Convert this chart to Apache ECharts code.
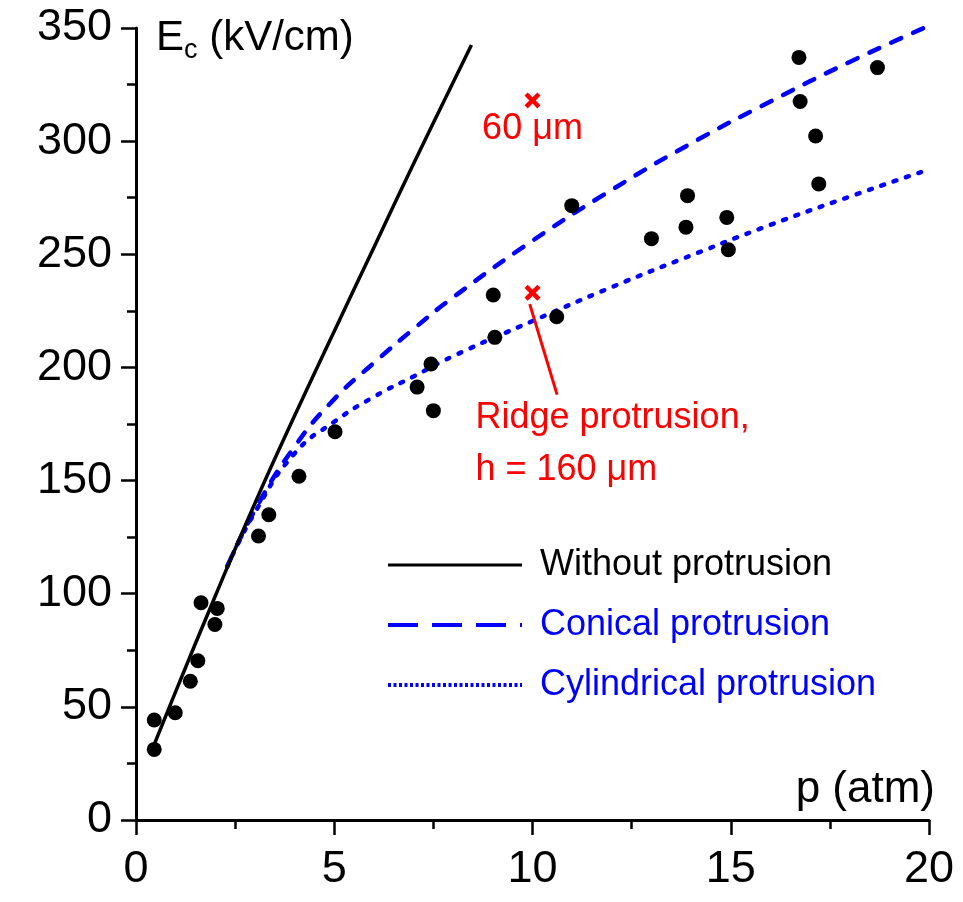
<!DOCTYPE html>
<html>
<head>
<meta charset="utf-8">
<script src="https://cdn.jsdelivr.net/npm/echarts@6/dist/echarts.min.js"></script>
<style>
  html, body { margin: 0; padding: 0; background: #fff; }
  #main { width: 963px; height: 902px; }
</style>
</head>
<body>
<div id="main"></div>
<script>
// measured points, p in atm, E in kV/cm
var expP = [0.46, 0.46, 0.99, 1.37, 1.56, 1.64, 1.99, 2.05, 3.09, 3.35, 4.11, 5.02, 7.09, 7.44, 7.5,
            9.01, 9.05, 10.61, 10.99, 13.0, 13.87, 13.91, 14.9, 14.94, 16.72, 16.75, 17.14, 17.22, 18.7];
var expE = [31.2, 44.2, 47.4, 61.3, 70.4, 96, 86.4, 93.5, 125.5, 134.9, 151.9, 171.6, 191.3, 201.5, 180.9,
            232, 213.3, 222.4, 271.5, 256.9, 262, 275.9, 266.3, 252, 337, 317.5, 302.3, 281.1, 332.5];

// calculated curves
var noProtP = [0.45, 1, 2, 3, 4, 5, 6, 7, 8, 8.46];
var noProtE = [33, 56.7, 99, 140, 178.6, 216, 253, 290, 326, 342.5];

var conicalP = [2.3, 3, 4, 5, 6, 7, 8, 10, 12, 14, 16, 18, 20];
var conicalE = [112, 137, 165, 186, 202, 217, 231, 256, 278.5, 299, 317.5, 335, 351];

var cylP = [2.3, 3, 4, 5, 6, 7, 8, 10, 12, 14, 16, 18, 20];
var cylE = [112, 136, 162, 176, 187, 196, 205, 220.5, 235.5, 249.5, 263, 275.5, 287.5];

// ridge protrusion crosses
var crossP = [10, 10];
var crossE = [318, 233];
var crossText = ['60 \u03bcm', 'Ridge protrusion,\nh = 160 \u03bcm'];
var leaderP = [9.93, 10.62];
var leaderE = [228, 188];

var xTicks = ['0', '5', '10', '15', '20'];

var FONT = 'Liberation Sans, Arial, sans-serif';
var BLUE = '#0000ff';
var RED = '#ff0000';

function pairs(xs, ys) {
    return xs.map(function (x, i) { return [x, ys[i]]; });
}

var crossSymbol = 'path://M2,0 L5,3 L8,0 L10,2 L7,5 L10,8 L8,10 L5,7 L2,10 L0,8 L3,5 L0,2 Z';

var myChart = echarts.init(document.getElementById('main'), null, { renderer: 'canvas' });

var options = {
    backgroundColor: '#fff',
    animation: false,
    textStyle: { fontFamily: FONT },
    grid: { left: 136, right: 34, top: 28, bottom: 82 },
    legend: {
        orient: 'vertical',
        left: 381,
        top: 540,
        itemWidth: 134,
        itemHeight: 20,
        itemGap: 20,
        selectedMode: false,
        itemStyle: { color: 'rgba(0,0,0,0)', borderWidth: 0 },
        textStyle: { fontFamily: FONT, fontSize: 36, lineHeight: 40, padding: [0, 0, 0, 13] },
        data: [
            { name: 'Without protrusion', textStyle: { color: '#000' },
              lineStyle: { color: '#000', width: 3, type: 'solid' } },
            { name: 'Conical protrusion', textStyle: { color: BLUE },
              lineStyle: { color: BLUE, width: 4, type: [30, 14], cap: 'butt' } },
            { name: 'Cylindrical protrusion', textStyle: { color: BLUE },
              lineStyle: { color: BLUE, width: 4, type: [3, 2.5], cap: 'butt' } }
        ]
    },
    xAxis: {
        type: 'value',
        min: 0,
        max: 20,
        interval: 5,
        name: 'p (atm)',
        nameLocation: 'end',
        nameGap: 6,
        nameTextStyle: { fontFamily: FONT, fontSize: 44, color: '#000', align: 'right', verticalAlign: 'bottom', padding: [0, 0, 8, 0] },
        axisLine: { show: true, onZero: false, lineStyle: { color: '#000', width: 3 } },
        axisTick: { show: true, length: 15, lineStyle: { color: '#000', width: 2.5 } },
        minorTick: { show: true, splitNumber: 2, length: 9, lineStyle: { color: '#000', width: 2.5 } },
        axisLabel: { fontFamily: FONT, fontSize: 45, color: '#000', margin: 27,
            formatter: function (v) { return xTicks[v / 5]; } },
        splitLine: { show: false }
    },
    yAxis: {
        type: 'value',
        min: 0,
        max: 350,
        interval: 50,
        name: '{a|E}{b|c}{a| (kV/cm)}',
        nameLocation: 'end',
        nameGap: -10,
        nameTextStyle: {
            align: 'left', verticalAlign: 'middle', padding: [0, 0, 0, 20],
            rich: {
                a: { fontFamily: FONT, fontSize: 42, lineHeight: 52, color: '#000' },
                b: { fontFamily: FONT, fontSize: 27, lineHeight: 27, color: '#000', verticalAlign: 'bottom' }
            }
        },
        axisLine: { show: true, onZero: false, lineStyle: { color: '#000', width: 3 } },
        axisTick: { show: true, length: 15, lineStyle: { color: '#000', width: 2.5 } },
        minorTick: { show: true, splitNumber: 2, length: 9, lineStyle: { color: '#000', width: 2.5 } },
        axisLabel: { fontFamily: FONT, fontSize: 45, color: '#000', margin: 24 },
        splitLine: { show: false }
    },
    series: [
        {
            name: 'Without protrusion',
            type: 'line',
            smooth: true,
            symbol: 'none',
            lineStyle: { color: '#000', width: 3.5 },
            itemStyle: { color: '#000' },
            data: pairs(noProtP, noProtE),
            z: 3
        },
        {
            name: 'Conical protrusion',
            type: 'line',
            smooth: true,
            symbol: 'none',
            lineStyle: { color: BLUE, width: 4.5, type: [11, 13], cap: 'round' },
            itemStyle: { color: BLUE },
            data: pairs(conicalP, conicalE),
            z: 2
        },
        {
            name: 'Cylindrical protrusion',
            type: 'line',
            smooth: true,
            symbol: 'none',
            lineStyle: { color: BLUE, width: 4.5, type: [3, 10], cap: 'round' },
            itemStyle: { color: BLUE },
            data: pairs(cylP, cylE),
            z: 2
        },
        {
            name: 'Experiment',
            type: 'scatter',
            symbol: 'circle',
            symbolSize: 15,
            itemStyle: { color: '#000', opacity: 1 },
            data: pairs(expP, expE),
            z: 4
        },
        {
            name: 'leader',
            type: 'line',
            symbol: 'none',
            lineStyle: { color: RED, width: 3 },
            data: pairs(leaderP, leaderE),
            z: 5
        },
        {
            name: 'Ridge',
            type: 'scatter',
            symbol: crossSymbol,
            symbolSize: 16,
            itemStyle: { color: RED, opacity: 1 },
            data: [
                { value: [crossP[0], crossE[0]],
                  label: { show: true, formatter: crossText[0], position: 'bottom', distance: 3,
                           color: RED, fontFamily: FONT, fontSize: 36 } },
                { value: [crossP[1], crossE[1]],
                  label: { show: true, formatter: crossText[1], position: [-49, 107], align: 'left',
                           verticalAlign: 'top', lineHeight: 52, color: RED, fontFamily: FONT, fontSize: 36 } }
            ],
            z: 6
        }
    ]
};

myChart.setOption(options);
</script>
</body>
</html>
